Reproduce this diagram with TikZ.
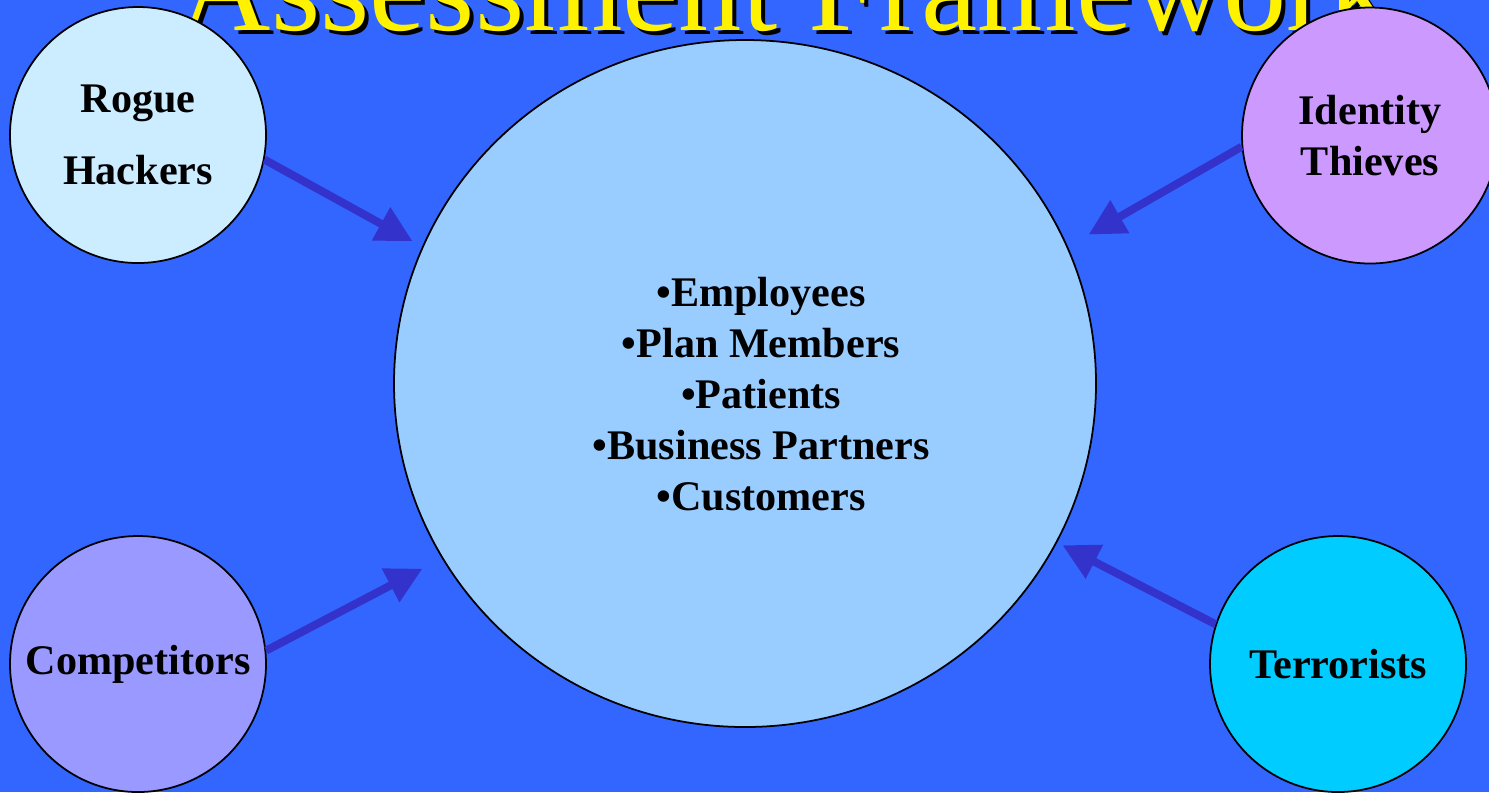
\documentclass[tikz,border=0pt]{standalone}
\usepackage{fontspec}
\setmainfont{Liberation Serif}
\usepackage{xcolor}
\usepackage{tikz}
\usetikzlibrary{arrows.meta, shapes.geometric}

\definecolor{slide}{HTML}{3366FF}
\definecolor{rogue}{HTML}{CCECFF}
\definecolor{thief}{HTML}{CC99FF}
\definecolor{rival}{HTML}{9999FF}
\definecolor{terror}{HTML}{00CCFF}
\definecolor{inner}{HTML}{99CCFF}
\definecolor{arrowblue}{HTML}{3333CC}

\begin{document}
\begin{tikzpicture}[x=0.1mm, y=-0.1mm, >={Triangle[length=3.6mm, width=3.6mm]},
  actor/.style={circle, draw, line width=0.5pt, minimum size=25.6mm, inner sep=0pt,
    align=center, font=\fontsize{12}{14.5}\selectfont\bfseries},
  threat/.style={->, arrowblue, line width=0.8mm}]
  \useasboundingbox (0,0) rectangle (1489,792);
  \fill[slide] (0,0) rectangle (1489,792);
  \clip (0,0) rectangle (1489,792);
  % heading, only its lower part is on the page
  \node[anchor=base, font=\fontsize{36}{40}\selectfont] (shade) at (790,34) {Assessment Framework};
  \node[anchor=base, text=yellow, font=\fontsize{36}{40}\selectfont] (title) at (786,30) {Assessment Framework};
  % what is at risk
  \node[ellipse, draw, fill=inner, line width=0.5pt, minimum width=70.2mm, minimum height=68.7mm] (core) at (745,383.5) {};
  \node[align=center, font=\fontsize{12}{14.5}\selectfont\bfseries] (assets) at (761,394)
    {•Employees\\•Plan Members\\•Patients\\•Business Partners\\•Customers};
  % who threatens it
  \node[actor, fill=rogue] (hack) at (138,135) {Rogue\\[6pt]Hackers};
  \node[actor, fill=thief] (thief) at (1370,135.5) {Identity\\Thieves};
  \node[actor, fill=rival] (rival) at (138,664) {Competitors};
  \node[actor, fill=terror] (terror) at (1338,664) {Terrorists};
  \draw[threat, shorten >=1.1mm] (hack.-11) -- (core.157);
  \draw[threat, shorten >=2.4mm] (thief.185) -- (core.23);
  \draw[threat, shorten >=2.2mm] (rival.6) -- (core.210);
  \draw[threat, shorten >=0.6mm] (terror.162) -- (core.-27);
\end{tikzpicture}
\end{document}
